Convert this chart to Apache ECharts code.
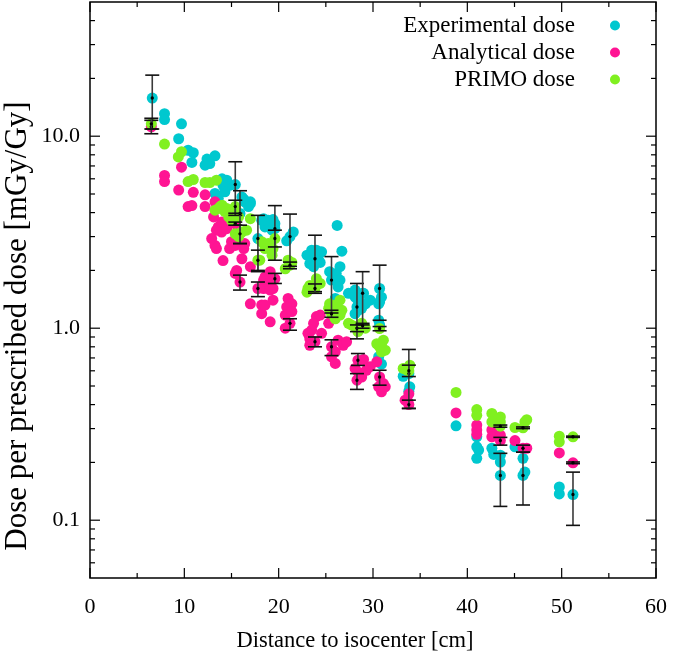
<!DOCTYPE html>
<html><head><meta charset="utf-8">
<script src="https://cdn.jsdelivr.net/npm/echarts@6/dist/echarts.min.js"></script>
<style>html,body{margin:0;padding:0;background:#fff}#c{width:682px;height:660px}</style>
</head><body><div id="c"></div>
<script>
// ---------- data ----------
const seriesNames = ['Experimental dose', 'Analytical dose', 'PRIMO dose'];
const xTitle = 'Distance to isocenter [cm]';
const yTitle = 'Dose per prescribed dose [mGy/Gy]';
const xMajorTicks = [0, 10, 20, 30, 40, 50, 60];
const xMinorTicks = [5, 15, 25, 35, 45, 55];
const yMajorTicks = [0.1, 1, 10];
const yMinorTicks = [0.06, 0.07, 0.08, 0.09, 0.2, 0.3, 0.4, 0.5, 0.6, 0.7, 0.8, 0.9,
  2, 3, 4, 5, 6, 7, 8, 9, 20, 30, 40];

const experimental = [
  [6.6, 15.8], [7.9, 13.1], [7.9, 12.2], [9.7, 11.6], [9.4, 9.7],
  [10.4, 8.45], [10.95, 8.2], [10.8, 7.3], [12.4, 7.6], [13.25, 7.9], [12.2, 7.06], [12.7, 7.2],
  [14.0, 6.0], [14.5, 5.9], [14.8, 5.55], [14.1, 5.55], [13.25, 5.03], [14.3, 5.13], [13.6, 4.74],
  [15.4, 5.6], [16.1, 4.83], [17.0, 4.55], [16.4, 4.55], [16.3, 4.7], [17.0, 4.45], [16.8, 4.3], [15.9, 3.96],
  [17.8, 2.93], [18.4, 3.72], [18.9, 3.65], [19.4, 3.68], [18.55, 3.37], [19.3, 3.24], [19.6, 3.3],
  [19.6, 3.5], [18.2, 3.65], [21.2, 3.0], [21.55, 3.17], [20.85, 2.85], [26.2, 3.43],
  [23.0, 2.4], [23.5, 2.55], [24.0, 2.55], [24.55, 2.5], [23.3, 2.17], [24.2, 2.3], [23.85, 2.3],
  [24.4, 2.2], [23.7, 2.09], [25.6, 1.78], [25.4, 1.97], [26.1, 1.93], [26.5, 2.09], [26.7, 2.52],
  [26.5, 1.78], [26.3, 1.64], [27.4, 1.52], [28.1, 1.58], [29.0, 1.52], [28.4, 1.40], [29.7, 1.40],
  [28.3, 1.29], [28.8, 1.27], [28.9, 1.52], [28.1, 1.45], [28.4, 1.24], [28.1, 1.19], [29.2, 1.34],
  [25.6, 1.32], [26.0, 1.43], [30.7, 1.61], [30.9, 1.45], [30.6, 1.34], [30.7, 1.37], [30.6, 1.10],
  [30.7, 1.04], [30.6, 0.71], [30.9, 0.65], [33.2, 0.562], [33.8, 0.58], [33.9, 0.495], [33.8, 0.47],
  [38.8, 0.31], [41.0, 0.272], [41.0, 0.241], [41.2, 0.232], [41.0, 0.21], [42.6, 0.237], [42.8, 0.22],
  [43.5, 0.218], [43.5, 0.201], [43.5, 0.171], [45.05, 0.241], [45.9, 0.21], [46.1, 0.178], [45.9, 0.171],
  [49.75, 0.149], [49.75, 0.137], [51.2, 0.136]
];
const analytical = [
  [6.5, 11.2], [7.9, 6.25], [7.9, 5.8], [9.7, 6.9], [9.4, 5.24], [10.95, 5.1], [10.4, 4.3], [10.8, 4.35],
  [12.2, 4.95], [12.2, 4.3], [13.25, 4.55], [13.1, 3.8], [13.6, 3.37], [13.95, 3.17], [13.4, 3.24],
  [14.5, 3.3], [13.95, 3.57], [12.9, 2.93], [13.25, 2.7], [13.4, 2.6], [15.0, 2.82], [14.8, 2.6],
  [15.4, 2.7], [14.1, 2.25], [16.3, 2.6], [16.4, 2.76], [16.1, 2.3], [15.55, 2.0], [15.4, 1.93],
  [15.9, 1.74], [17.0, 2.09], [17.0, 1.34], [17.8, 1.61], [18.4, 1.78], [18.2, 1.32], [18.2, 1.19],
  [19.1, 1.97], [19.6, 1.81], [18.55, 1.85], [18.4, 1.61], [18.9, 1.71], [19.4, 1.61], [19.1, 1.58],
  [19.4, 1.40], [18.55, 1.32], [19.1, 1.08], [21.0, 1.43], [21.4, 1.34], [20.85, 1.29], [20.7, 1.17],
  [21.4, 1.22], [21.2, 1.06], [20.7, 1.0], [15.4, 3.5], [24.0, 1.15], [24.4, 1.17], [23.7, 1.06],
  [23.5, 0.976], [23.1, 0.94], [23.85, 0.85], [24.55, 0.94], [23.3, 0.88], [23.3, 0.815], [25.3, 1.06],
  [26.3, 0.866], [25.6, 0.8], [26.0, 0.753], [25.6, 0.71], [26.0, 0.655], [26.85, 0.815], [27.2, 0.85],
  [28.4, 0.681], [29.0, 0.687], [28.1, 0.617], [28.4, 0.592], [28.8, 0.557], [28.3, 0.536], [29.3, 0.604],
  [29.7, 0.63], [30.4, 0.668], [30.7, 0.557], [31.1, 0.515], [30.9, 0.466], [31.3, 0.495], [30.6, 0.495],
  [33.4, 0.422], [33.7, 0.414], [33.8, 0.40], [33.8, 0.455], [38.8, 0.362], [41.0, 0.313], [41.0, 0.295],
  [41.0, 0.28], [42.6, 0.295], [42.6, 0.272], [43.5, 0.277], [43.5, 0.26], [45.05, 0.26], [45.9, 0.237],
  [46.3, 0.237], [49.75, 0.224], [51.2, 0.199]
];
const primo = [
  [6.5, 11.6], [7.9, 9.1], [9.36, 7.8], [9.7, 8.3], [10.4, 5.8], [10.95, 5.95], [12.2, 5.74], [12.7, 5.74],
  [13.4, 5.9], [14.0, 4.37], [13.6, 4.2], [14.5, 4.2], [15.4, 4.3], [13.25, 4.12], [13.8, 4.3], [14.3, 4.05],
  [14.7, 3.8], [15.4, 4.2], [15.75, 3.8], [15.0, 3.65], [15.4, 3.1], [16.1, 3.17], [16.6, 3.24], [15.75, 3.0],
  [15.9, 3.1], [17.0, 3.72], [17.8, 2.26], [18.2, 2.82], [18.9, 2.76], [18.55, 2.6], [19.4, 2.6], [18.0, 2.26],
  [19.3, 2.4], [19.6, 2.93], [21.0, 2.26], [21.4, 2.2], [20.7, 2.04], [21.2, 2.13], [23.1, 1.61], [24.0, 1.81],
  [24.4, 1.71], [23.85, 1.61], [23.3, 1.67], [23.0, 1.54], [25.4, 1.34], [26.1, 1.32], [26.0, 1.22], [26.7, 1.24],
  [26.5, 1.4], [25.6, 1.19], [26.5, 1.17], [25.3, 1.27], [26.0, 1.12], [27.4, 1.06], [28.1, 1.02], [28.8, 1.06],
  [28.4, 0.96], [29.2, 1.0], [28.3, 1.0], [27.7, 1.04], [28.9, 1.03], [30.7, 0.996], [30.9, 0.83], [31.1, 0.866],
  [30.7, 0.8], [31.3, 0.768], [30.4, 0.83], [30.9, 0.753], [33.2, 0.617], [33.9, 0.642], [33.6, 0.605], [33.8, 0.6],
  [38.8, 0.463], [41.0, 0.377], [41.0, 0.352], [42.6, 0.36], [42.6, 0.325], [43.5, 0.345], [43.5, 0.325],
  [43.5, 0.309], [45.05, 0.304], [46.1, 0.325], [46.3, 0.334], [45.9, 0.303], [49.75, 0.274], [49.75, 0.256],
  [51.2, 0.272]
];
// error bars: [x, y, low, high]
const experimentalErr = [
  [6.6, 15.8, 10.9, 20.8], [15.4, 5.6, 3.87, 7.36], [15.9, 3.96, 2.76, 5.2], [17.8, 2.93, 1.97, 3.87],
  [19.6, 3.3, 2.26, 4.35], [21.2, 3.0, 2.1, 3.93], [23.85, 2.3, 1.55, 3.05], [25.6, 1.78, 1.2, 2.36],
  [28.3, 1.29, 0.88, 1.71], [28.9, 1.52, 1.04, 1.97], [30.7, 1.61, 1.1, 2.13], [33.8, 0.58, 0.382, 0.775],
  [43.5, 0.171, 0.118, 0.223], [45.9, 0.171, 0.12, 0.226], [51.2, 0.136, 0.094, 0.178]
];
const analyticalErr = [
  [6.5, 11.2, 10.3, 12.1], [15.4, 3.5, 3.44, 3.57], [15.9, 1.74, 1.58, 1.89], [17.8, 1.61, 1.46, 1.74],
  [19.6, 1.81, 1.71, 1.93], [21.2, 1.06, 0.976, 1.12], [23.85, 0.85, 0.8, 0.9], [25.6, 0.8, 0.72, 0.87],
  [28.3, 0.536, 0.48, 0.58], [28.4, 0.681, 0.64, 0.738], [30.7, 0.557, 0.505, 0.604], [33.8, 0.40, 0.382, 0.422],
  [43.5, 0.26, 0.246, 0.27], [45.9, 0.237, 0.226, 0.246], [51.2, 0.199, 0.197, 0.201]
];
const primoErr = [
  [6.5, 11.6, 10.9, 12.4], [15.4, 4.3, 3.97, 4.64], [15.9, 3.1, 2.76, 3.44], [17.8, 2.26, 2.0, 2.55],
  [19.6, 2.93, 2.65, 3.24], [21.2, 2.13, 2.04, 2.21], [23.85, 1.61, 1.52, 1.70], [25.6, 1.19, 1.14, 1.24],
  [28.3, 1.0, 0.96, 1.04], [28.9, 1.03, 1.0, 1.06], [30.7, 0.996, 0.97, 1.02], [33.8, 0.6, 0.56, 0.642],
  [43.5, 0.309, 0.305, 0.313], [45.9, 0.303, 0.3, 0.306], [51.2, 0.272, 0.27, 0.274]
];

// ---------- chart ----------
const FONT = 'Liberation Serif';
const COLORS = ['#00c8cf', '#ff1493', '#80f020'];
const X_MIN = 0, X_MAX = 60, Y_MIN = 0.05, Y_MAX = 50;

function isPow10(v) { const l = Math.log10(v); return Math.abs(l - Math.round(l)) < 1e-6; }

function ln(x1, y1, x2, y2, color, w) {
  return { type: 'line', shape: { x1, y1, x2, y2 }, style: { stroke: color || '#000', lineWidth: w || 1.2 } };
}

function renderTicks(params, api) {
  const ch = [];
  const xl = api.coord([X_MIN, 1])[0], xr = api.coord([X_MAX, 1])[0];
  const yb = api.coord([1, Y_MIN])[1], yt = api.coord([1, Y_MAX])[1];
  yMajorTicks.forEach(v => { const y = api.coord([1, v])[1]; ch.push(ln(xl, y, xl + 10, y), ln(xr, y, xr - 10, y)); });
  yMinorTicks.forEach(v => { const y = api.coord([1, v])[1]; ch.push(ln(xl, y, xl + 5, y), ln(xr, y, xr - 5, y)); });
  xMajorTicks.forEach(v => { const x = api.coord([v, 1])[0]; ch.push(ln(x, yb, x, yb - 10), ln(x, yt, x, yt + 10)); });
  xMinorTicks.forEach(v => { const x = api.coord([v, 1])[0]; ch.push(ln(x, yb, x, yb - 5), ln(x, yt, x, yt + 5)); });
  return { type: 'group', children: ch };
}

function renderErr(params, api) {
  const x = api.value(0), y = api.value(1), lo = api.value(2), hi = api.value(3);
  const p = api.coord([x, y]), pl = api.coord([x, lo]), ph = api.coord([x, hi]);
  const w = 7;
  return { type: 'group', children: [
    ln(p[0], pl[1], p[0], ph[1], '#3a3a3a', 1.6),
    ln(p[0] - w, pl[1], p[0] + w, pl[1], '#111', 1.6),
    ln(p[0] - w, ph[1], p[0] + w, ph[1], '#111', 1.6),
    { type: 'circle', shape: { cx: p[0], cy: p[1], r: 1.7 }, style: { fill: '#000' } }
  ] };
}

const scatterSeries = [experimental, analytical, primo].map((d, i) => ({
  name: seriesNames[i], type: 'scatter', data: d, symbol: 'circle', symbolSize: 11,
  itemStyle: { color: COLORS[i], opacity: 1 }, z: 2 + i, silent: true
}));
const errSeries = [experimentalErr, analyticalErr, primoErr].map(d => ({
  type: 'custom', data: d, renderItem: renderErr, encode: { x: 0, y: [1, 2, 3] }, z: 10, clip: false, silent: true
}));

const option = {
  animation: false,
  backgroundColor: '#fff',
  grid: { left: 90, right: 26, top: 2, bottom: 82, show: true, borderColor: '#000', borderWidth: 1.5, backgroundColor: 'transparent' },
  legend: {
    data: seriesNames, orient: 'vertical', right: 57, top: 9, align: 'right',
    itemWidth: 10, itemHeight: 10, itemGap: 4, icon: 'circle',
    textStyle: { fontFamily: FONT, fontSize: 23, color: '#000', lineHeight: 22.5, padding: [0, 30, 0, 0] }
  },
  graphic: [{
    type: 'text', x: 18, y: 326, rotation: Math.PI / 2, silent: true,
    style: { text: yTitle, font: '31px "Liberation Serif"', fill: '#000', align: 'center', verticalAlign: 'middle' }
  }],
  xAxis: {
    type: 'value', min: X_MIN, max: X_MAX, interval: 10,
    axisLine: { show: false }, axisTick: { show: false }, splitLine: { show: false },
    axisLabel: { fontFamily: FONT, fontSize: 22, color: '#000', margin: 18 },
    name: xTitle, nameLocation: 'middle', nameGap: 52,
    nameTextStyle: { fontFamily: FONT, fontSize: 22.5, color: '#000', padding: [0, 36, 0, 0] }
  },
  yAxis: {
    type: 'log', logBase: 10, min: Y_MIN, max: Y_MAX,
    axisLine: { show: false }, axisTick: { show: false }, splitLine: { show: false }, minorTick: { show: false },
    axisLabel: { fontFamily: FONT, fontSize: 22, color: '#000', margin: 10,
      formatter: v => isPow10(v) ? Number(v).toFixed(1) : '' }
  },
  series: [
    ...scatterSeries,
    ...errSeries,
    { type: 'custom', data: [[30, 1]], renderItem: renderTicks, encode: { x: 0, y: 1 }, z: 20, clip: false, silent: true }
  ]
};

const chart = echarts.init(document.getElementById('c'), null, { renderer: 'canvas' });
chart.setOption(option);
</script>
</body></html>
